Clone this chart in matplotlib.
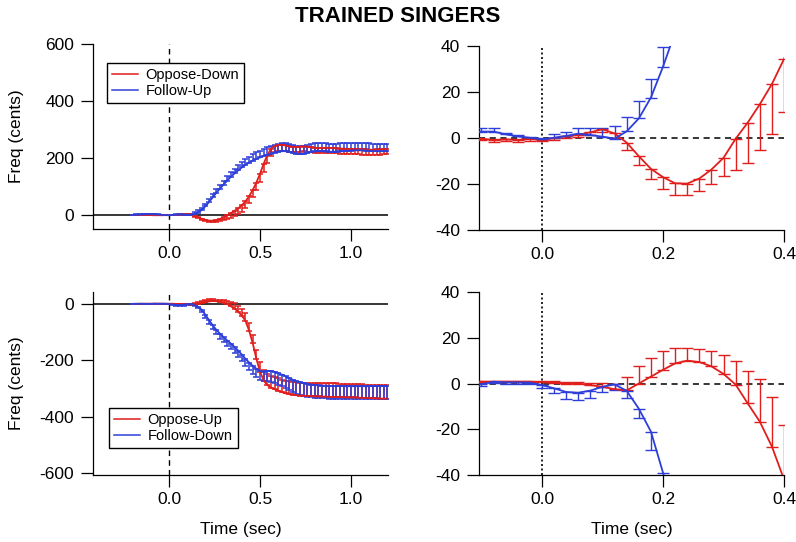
import numpy as np
import matplotlib
matplotlib.use("Agg")
import matplotlib.pyplot as plt

plt.rcParams["font.family"] = ["Liberation Sans", "DejaVu Sans"]
plt.rcParams["axes.unicode_minus"] = False

# time base (sec), one sample every 20 ms
t = np.round(np.arange(-0.2, 1.2001, 0.02), 2)

# shift-up trials (top row)
oppose_down = [0.0, 0.5, 0.6, 0.5, 0.2, -0.3, -0.8, -0.6, -0.8, -0.4,
               -0.8, 0.0, 0.8, 1.4, 2.5, 3.8, 2.0, -2.0, -7.9, -13.4,
               -17.0, -19.7, -19.8, -17.6, -13.7, -8.6, -0.3, 6.7, 14.7, 23.5,
               34.4, 48, 66, 88, 114, 145, 180, 210, 232, 242,
               246, 246, 244, 241, 239, 239, 240, 241, 240, 238,
               236, 235, 235, 236, 236, 235, 234, 233, 233, 232,
               232, 231, 231, 230, 230, 229, 229, 230, 230, 231, 231]
oppose_down_err = [0.5, 0.5, 0.5, 0.5, 0.5, 0.6, 0.8, 0.8, 0.8, 0.7,
                   0.6, 0.8, 0.9, 1.0, 1.2, 1.2, 1.8, 3.4, 3.9, 4.6,
                   5.0, 5.0, 5.0, 5.3, 6.3, 8.0, 13.8, 17.5, 19.7, 21.6,
                   23.0, 24, 25, 26, 27, 28, 28, 26, 24, 22,
                   21, 20, 20, 19, 19, 19, 18, 18, 18, 18,
                   18, 18, 18, 18, 18, 18, 18, 18, 18, 18,
                   18, 18, 18, 18, 18, 18, 18, 18, 18, 18, 18]
follow_up = [0.0, 0.8, 1.8, 2.5, 2.8, 2.8, 2.8, 1.6, 0.7, 0.1,
             -0.6, 0.1, 0.9, 1.9, 1.3, 0.6, -0.3, 2.9, 8.5, 17.6,
             31, 46, 62, 78, 93, 107, 121, 134, 146, 157,
             167, 176, 184, 191, 197, 202, 207, 211, 215, 219,
             222, 224, 224, 222, 218, 215, 214, 215, 218, 221,
             223, 224, 224, 223, 222, 222, 222, 223, 224, 225,
             226, 227, 227, 227, 226, 225, 224, 224, 224, 224, 224]
follow_up_err = [1.5, 1.5, 1.5, 1.5, 1.6, 1.7, 1.4, 0.7, 0.8, 0.5,
                 0.5, 1.5, 1.9, 2.6, 2.9, 3.9, 5.5, 6.2, 7.6, 8.1,
                 8.5, 10, 11, 12, 13, 14, 15, 16, 17, 18,
                 19, 20, 21, 22, 23, 24, 25, 26, 26, 27,
                 27, 27, 27, 28, 28, 28, 28, 28, 28, 28,
                 28, 28, 28, 28, 28, 28, 28, 28, 28, 28,
                 27, 27, 27, 27, 27, 27, 26, 26, 26, 26, 26]

# shift-down trials (bottom row)
oppose_up = [0.0, 0.3, 0.5, 0.6, 0.7, 0.8, 0.8, 0.8, 0.8, 0.8,
             0.6, 0.4, 0.0, 0.0, -0.7, -1.4, -2.5, -3.0, 0.0, 3.0,
             6.0, 8.8, 10.0, 9.4, 7.5, 4.2, -0.5, -8.7, -16.7, -27.6,
             -42, -60, -95, -140, -195, -240, -272, -288, -297, -303,
             -308, -313, -317, -320, -322, -324, -325, -326, -327, -327,
             -328, -328, -329, -329, -330, -330, -330, -331, -331, -332,
             -332, -332, -333, -333, -334, -334, -335, -335, -336, -336, -336]
oppose_up_err = [0.3, 0.3, 0.3, 0.3, 0.3, 0.5, 0.5, 0.5, 0.5, 0.5,
                 0.5, 0.5, 0.6, 0.7, 1.0, 1.8, 2.5, 5.8, 7.5, 8.0,
                 8.2, 6.9, 5.7, 5.6, 6.7, 8.1, 10.2, 14.3, 18.5, 21.8,
                 24, 26, 28, 30, 32, 35, 38, 40, 42, 43,
                 44, 44, 45, 45, 46, 46, 46, 47, 47, 47,
                 48, 48, 48, 48, 48, 48, 48, 48, 48, 48,
                 48, 48, 48, 48, 48, 48, 48, 48, 48, 48, 48]
follow_down = [0.0, 0.2, 0.4, 0.3, 0.0, -0.3, 0.8, 0.5, 0.5, 0.4,
               -0.7, -2.1, -3.7, -4.0, -3.1, -1.4, -0.4, -3.2, -11, -21,
               -39, -58, -76, -92, -106, -118, -130, -141, -153, -166,
               -180, -195, -208, -220, -230, -238, -240, -238, -238, -241,
               -246, -251, -257, -263, -269, -274, -278, -281, -284, -286,
               -288, -289, -290, -290, -291, -291, -291, -291, -292, -292,
               -292, -292, -292, -292, -292, -292, -291, -291, -291, -291, -291]
follow_down_err = [0.5, 0.5, 0.5, 0.5, 0.5, 0.6, 0.4, 0.5, 0.5, 0.6,
                   1.4, 2.2, 3.1, 3.2, 3.4, 2.2, 2.4, 3.3, 3.9, 8.0,
                   10, 12, 14, 16, 17, 18, 19, 20, 21, 22,
                   23, 24, 25, 27, 29, 31, 33, 36, 38, 40,
                   41, 42, 43, 44, 44, 45, 45, 45, 45, 45,
                   45, 45, 45, 45, 45, 45, 45, 45, 45, 46,
                   46, 46, 46, 46, 46, 46, 46, 46, 46, 46, 46]

RED = "#e01e1c"
BLUE = "#2d3ed9"


def draw(ax, red, red_err, red_dir, blue, blue_err, blue_dir, cap, elw):
    zero = np.zeros(len(t))
    for y, e, d, c in [(red, red_err, red_dir, RED), (blue, blue_err, blue_dir, BLUE)]:
        e = np.array(e)
        yerr = [zero, e] if d > 0 else [e, zero]
        ax.errorbar(t, y, yerr=yerr, fmt="none", ecolor=c, elinewidth=elw,
                    capsize=cap, capthick=elw, zorder=3)
        ax.plot(t, y, color=c, lw=1.3, zorder=4)


def style(ax, xlim, ylim, yticks, xticks):
    ax.set_xlim(*xlim)
    ax.set_ylim(*ylim)
    ax.set_yticks(yticks)
    ax.set_xticks(xticks)
    ax.set_xticklabels(["%.1f" % v for v in xticks])
    for s in ["top", "right"]:
        ax.spines[s].set_visible(False)
    for s in ["left", "bottom"]:
        ax.spines[s].set_linewidth(0.9)
    ax.tick_params(direction="out", length=8.5, width=0.9, labelsize=12.5)
    ax.tick_params(axis="y", pad=5)
    ax.tick_params(axis="x", pad=3.5)


fig = plt.figure(figsize=(7.96, 5.42), dpi=100)
ax_tl = fig.add_axes([0.1168, 0.5775, 0.3706, 0.3413])
ax_tr = fig.add_axes([0.6018, 0.5756, 0.3832, 0.3395])
ax_bl = fig.add_axes([0.1168, 0.1236, 0.3706, 0.3376])
ax_br = fig.add_axes([0.6018, 0.1236, 0.3832, 0.3376])

# left: whole response
for ax, yl, yt in [(ax_tl, (-49, 600), [0, 200, 400, 600]),
                   (ax_bl, (-607, 42), [-600, -400, -200, 0])]:
    ax.axhline(0, color="black", lw=1.1, zorder=2)
    ax.axvline(0, color="black", lw=1.0, ls=(0, (4, 3)), zorder=2)
    style(ax, (-0.418, 1.203), yl, yt, [0.0, 0.5, 1.0])
    ax.set_ylabel("Freq (cents)", fontsize=12.5)
    ax.yaxis.set_label_coords(-0.235, 0.5)

draw(ax_tl, oppose_down, oppose_down_err, -1, follow_up, follow_up_err, 1, 2.5, 1.1)
draw(ax_bl, oppose_up, oppose_up_err, 1, follow_down, follow_down_err, -1, 2.5, 1.1)

# right: early part enlarged
for ax in [ax_tr, ax_br]:
    ax.axhline(0, color="black", lw=1.1, ls=(0, (4, 3)), zorder=2)
    ax.axvline(0, color="black", lw=1.2, ls=(0, (1.2, 1.5)), zorder=2)
    style(ax, (-0.104, 0.4), (-40, 40), [-40, -20, 0, 20, 40], [0.0, 0.2, 0.4])

draw(ax_tr, oppose_down, oppose_down_err, -1, follow_up, follow_up_err, 1, 4.5, 1.0)
draw(ax_br, oppose_up, oppose_up_err, 1, follow_down, follow_down_err, -1, 4.5, 1.0)

for ax in [ax_bl, ax_br]:
    ax.set_xlabel("Time (sec)", fontsize=12.5)
    ax.xaxis.set_label_coords(0.5, -0.255)

leg_kw = dict(loc="upper left", fontsize=10.5, frameon=True, fancybox=False,
              edgecolor="black", framealpha=1, borderaxespad=0, borderpad=0.35,
              handlelength=1.8, handletextpad=0.5, labelspacing=0.15)
l1 = ax_tl.legend([plt.Line2D([], [], color=RED, lw=1.1), plt.Line2D([], [], color=BLUE, lw=1.1)],
                  ["Oppose-Down", "Follow-Up"], bbox_to_anchor=(0.047, 0.897), **leg_kw)
l2 = ax_bl.legend([plt.Line2D([], [], color=RED, lw=1.1), plt.Line2D([], [], color=BLUE, lw=1.1)],
                  ["Oppose-Up", "Follow-Down"], bbox_to_anchor=(0.054, 0.366), **leg_kw)
for l in [l1, l2]:
    l.get_frame().set_linewidth(1.0)
    l.set_zorder(10)

fig.text(0.5, 1 - 16 / 542, "TRAINED SINGERS", ha="center", va="center",
         fontsize=16, fontweight="bold")

fig.savefig("out.png", dpi=100)
